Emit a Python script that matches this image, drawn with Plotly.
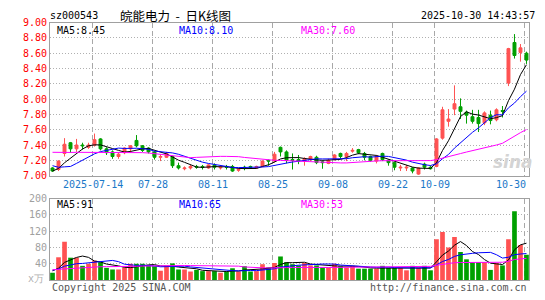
import plotly.graph_objects as go
import pandas as pd

# ---------------- data ----------------
dates = (["2025-07-" + d for d in ["03","04","07","08","09","10","11","14","15","16","17","18","21","22","23","24","25","28","29","30","31"]]
         + ["2025-08-" + d for d in ["01","04","05","06","07","08","11","12","13","14","15","18","19","20","21","22","25","26","27","28","29"]]
         + ["2025-09-" + d for d in ["01","02","03","04","05","08","09","10","11","12","15","16","17","18","19","22","23","24","25","26","29","30"]]
         + ["2025-10-" + d for d in ["09","10","13","14","15","16","17","20","21","22","23","24","27","28","29","30"]])

opens = [7.10, 7.08, 7.29, 7.43, 7.35, 7.40, 7.37, 7.40, 7.48, 7.35,
         7.31, 7.25, 7.30, 7.35, 7.46, 7.39, 7.36, 7.31, 7.24, 7.24,
         7.25, 7.13, 7.09, 7.10, 7.12, 7.12, 7.10, 7.14, 7.10, 7.12,
         7.12, 7.07, 7.11, 7.12, 7.10, 7.12, 7.20, 7.19, 7.37, 7.31,
         7.21, 7.21, 7.19, 7.21, 7.24, 7.18, 7.16, 7.21, 7.29, 7.25,
         7.32, 7.34, 7.29, 7.25, 7.19, 7.29, 7.20, 7.17, 7.10, 7.10,
         7.10, 7.02, 7.15, 7.11, 7.12, 7.49, 7.71, 7.87, 7.90, 7.83,
         7.77, 7.76, 7.69, 7.79, 7.73, 7.85, 8.21, 8.74, 8.61, 8.60]
highs = [7.11, 7.20, 7.49, 7.44, 7.48, 7.43, 7.43, 7.55, 7.49, 7.37,
         7.33, 7.30, 7.37, 7.40, 7.53, 7.40, 7.37, 7.32, 7.28, 7.31,
         7.26, 7.17, 7.12, 7.14, 7.14, 7.14, 7.15, 7.16, 7.13, 7.14,
         7.14, 7.10, 7.13, 7.13, 7.13, 7.20, 7.21, 7.31, 7.38, 7.33,
         7.29, 7.27, 7.24, 7.26, 7.26, 7.20, 7.22, 7.28, 7.30, 7.31,
         7.36, 7.35, 7.31, 7.26, 7.27, 7.30, 7.21, 7.18, 7.14, 7.14,
         7.11, 7.11, 7.17, 7.13, 7.49, 7.90, 7.87, 8.18, 8.01, 7.85,
         7.86, 7.86, 7.84, 7.85, 7.88, 7.91, 8.67, 8.85, 8.72, 8.62]
lows = [7.05, 7.06, 7.25, 7.30, 7.31, 7.34, 7.35, 7.38, 7.33, 7.27,
        7.22, 7.22, 7.28, 7.30, 7.37, 7.31, 7.29, 7.21, 7.19, 7.23,
        7.10, 7.08, 7.07, 7.08, 7.09, 7.08, 7.09, 7.08, 7.08, 7.08,
        7.05, 7.05, 7.07, 7.09, 7.09, 7.11, 7.13, 7.17, 7.25, 7.16,
        7.08, 7.15, 7.13, 7.19, 7.15, 7.09, 7.15, 7.20, 7.22, 7.19,
        7.30, 7.28, 7.20, 7.18, 7.16, 7.19, 7.13, 7.07, 7.06, 7.06,
        7.03, 7.01, 7.08, 7.08, 7.11, 7.47, 7.64, 7.79, 7.74, 7.68,
        7.68, 7.57, 7.66, 7.67, 7.71, 7.76, 8.17, 8.53, 8.49, 8.46]
closes = [7.06, 7.19, 7.41, 7.35, 7.40, 7.39, 7.40, 7.47, 7.35, 7.30,
          7.25, 7.28, 7.36, 7.39, 7.39, 7.33, 7.31, 7.24, 7.25, 7.29,
          7.13, 7.10, 7.10, 7.12, 7.11, 7.11, 7.14, 7.11, 7.11, 7.11,
          7.06, 7.08, 7.10, 7.11, 7.12, 7.19, 7.19, 7.28, 7.31, 7.20,
          7.20, 7.19, 7.22, 7.25, 7.17, 7.17, 7.20, 7.27, 7.25, 7.29,
          7.33, 7.30, 7.24, 7.20, 7.25, 7.21, 7.17, 7.11, 7.11, 7.11,
          7.06, 7.10, 7.11, 7.09, 7.48, 7.86, 7.74, 7.94, 7.84, 7.79,
          7.71, 7.68, 7.82, 7.72, 7.86, 7.84, 8.66, 8.57, 8.67, 8.51]
volumes = [18, 56, 94, 55, 55, 35, 40, 48, 44, 30,
           26, 26, 31, 40, 40, 40, 36, 34, 23, 36,
           41, 26, 26, 21, 25, 22, 22, 22, 18, 21,
           29, 21, 34, 21, 22, 39, 31, 42, 58, 44,
           39, 36, 42, 36, 36, 31, 31, 40, 34, 31,
           35, 28, 28, 28, 28, 35, 30, 30, 30, 24,
           35, 30, 35, 24, 100, 118, 80, 106, 69, 51,
           44, 44, 44, 25, 42, 36, 100, 169, 86, 62]
# closes / volumes of the 29 sessions before the window, estimated from where the MA lines start
prior_closes = [7.30, 7.33, 7.38, 7.35, 7.40, 7.37, 7.34, 7.39, 7.42, 7.36,
                7.33, 7.35, 7.38, 7.36, 7.34, 7.45, 7.52, 7.55, 7.50, 7.43,
                7.40, 7.35, 7.30, 7.00, 6.95, 7.02, 7.04, 7.06, 7.12]
prior_volumes = [28, 25, 30, 27, 24, 22, 28, 25, 26, 29,
                 27, 23, 26, 30, 25, 24, 27, 28, 25, 23,
                 27, 25, 26, 24, 28, 24, 23, 25, 24]

tick_dates = ["2025-07-14", "2025-07-28", "2025-08-11", "2025-08-25",
              "2025-09-08", "2025-09-22", "2025-10-09", "2025-10-30"]
tick_labels = ["2025-07-14", "07-28", "08-11", "08-25", "09-08", "09-22", "10-09", "10-30"]
price_ticks = [7.0, 7.2, 7.4, 7.6, 7.8, 8.0, 8.2, 8.4, 8.6, 8.8, 9.0]
vol_ticks = [40, 80, 120, 160, 200]

code = "sz000543"
title = "皖能电力\u00a0 - \u00a0日K线图"
stamp = "2025-10-30 14:43:57"

# ---------------- derived ----------------
n = len(closes)
x = list(range(n))
cs = pd.Series(prior_closes + closes)
vs = pd.Series(prior_volumes + volumes)
ma = {k: cs.rolling(k).mean().iloc[-n:].tolist() for k in (5, 10, 30)}
vma = {k: vs.rolling(k).mean().iloc[-n:].tolist() for k in (5, 10, 30)}

W, H = 545, 300
def px(v): return v / W
def py(v): return 1 - v / H

RED = "#ff5252"
GREEN = "#00a000"
MONO = "DejaVu Sans Mono"
MA_COL = {5: "#000000", 10: "#0000ff", 30: "#ff00ff"}

fig = go.Figure()
fig.add_trace(go.Candlestick(
    x=x, open=opens, high=highs, low=lows, close=closes,
    increasing=dict(line=dict(color=RED, width=1), fillcolor=RED),
    decreasing=dict(line=dict(color=GREEN, width=1), fillcolor=GREEN),
    whiskerwidth=0, showlegend=False, hoverinfo="skip", xaxis="x", yaxis="y"))
for k in (5, 10, 30):
    fig.add_trace(go.Scatter(x=x, y=ma[k], mode="lines", line=dict(color=MA_COL[k], width=1),
                             showlegend=False, hoverinfo="skip", xaxis="x", yaxis="y"))

bar_cols = [RED if c >= o else GREEN for o, c in zip(opens, closes)]
fig.add_trace(go.Bar(x=x, y=volumes, marker=dict(color=bar_cols, line=dict(width=0)), width=0.78,
                     showlegend=False, hoverinfo="skip", xaxis="x2", yaxis="y2"))
for k in (5, 10, 30):
    fig.add_trace(go.Scatter(x=x, y=vma[k], mode="lines", line=dict(color=MA_COL[k], width=1),
                             showlegend=False, hoverinfo="skip", xaxis="x2", yaxis="y2"))

grid_x = [dates.index(d) - 0.3 for d in tick_dates]
xr = [-0.42, 79.42]
xdom = [px(50), px(529)]
common_x = dict(domain=xdom, range=xr, showgrid=True, tickvals=grid_x, showticklabels=False,
                gridcolor="#a8a8a8", griddash="5px,3px", gridwidth=1, showline=True,
                linecolor="#a0a0a0", mirror=True, zeroline=False, ticks="", fixedrange=True)

fig.update_layout(
    width=W, height=H, margin=dict(l=0, r=0, t=0, b=0), autosize=False,
    paper_bgcolor="white", plot_bgcolor="white", hovermode=False, boxgap=0.3,
    xaxis=dict(anchor="y", rangeslider=dict(visible=False), **common_x),
    xaxis2=dict(anchor="y2", **common_x),
    yaxis=dict(domain=[py(176.7), py(17.3)], range=[7.0, 9.0], tickvals=price_ticks,
               ticktext=[f"{v:.2f}" for v in price_ticks], tickfont=dict(family=MONO, size=10, color="#ff0000"),
               showgrid=True, gridcolor="#b0b0b0", griddash="1px,2px", showline=True, linecolor="#a0a0a0",
               mirror=True, zeroline=False, ticks="", fixedrange=True, anchor="x"),
    yaxis2=dict(domain=[py(285.5), py(200.7)], range=[0, 200], tickvals=vol_ticks,
                ticktext=[str(v) for v in vol_ticks], tickfont=dict(family=MONO, size=10, color="#a0a0a0"),
                showgrid=True, gridcolor="#b0b0b0", griddash="1px,2px", showline=True, linecolor="#a0a0a0",
                mirror=True, zeroline=False, ticks="", fixedrange=True, anchor="x2"),
)

ann = []
def text(xp, yp, s, color="#000", size=10, family=MONO, xanchor="left", **kw):
    ann.append(dict(x=px(xp), y=py(yp), xref="paper", yref="paper", text=s, showarrow=False,
                    xanchor=xanchor, yanchor="middle", font=dict(family=family, size=size, color=color), **kw))

text(48, 10, code)
text(118, 9.5, title, size=12.5, family="Noto Sans CJK SC")
text(537, 10, stamp, xanchor="right")
text(55, 25, f"MA5:{ma[5][-1]:.2f}", color=MA_COL[5])
text(177, 25, f"MA10:{ma[10][-1]:.2f}", color=MA_COL[10])
text(299, 25, f"MA30:{ma[30][-1]:.2f}", color=MA_COL[30])
text(55, 206.5, f"MA5:{round(vma[5][-1])}", color=MA_COL[5])
text(177, 206.5, f"MA10:{round(vma[10][-1])}", color=MA_COL[10])
text(299, 206.5, f"MA30:{round(vma[30][-1])}", color=MA_COL[30])
text(46, 284, "x万", color="#b0b0b0", xanchor="right")
text(50, 293, "Copyright 2025 SINA.COM", color="#555555")
text(529, 293, "http://finance.sina.com.cn", color="#555555", xanchor="right")
text(513, 162, "<i><b>sina</b></i>", color="#d4d4d4", size=17, family="DejaVu Sans", xanchor="center")

for gx, lab in zip(grid_x, tick_labels):
    shift = -14 if lab == tick_labels[-1] else 0
    ann.append(dict(x=gx, y=py(186), xref="x", yref="paper", text=lab, showarrow=False,
                    xanchor="center", yanchor="middle", xshift=shift,
                    font=dict(family=MONO, size=10, color="#1a78c8")))

fig.update_layout(annotations=ann)
fig.write_html("out.html")
